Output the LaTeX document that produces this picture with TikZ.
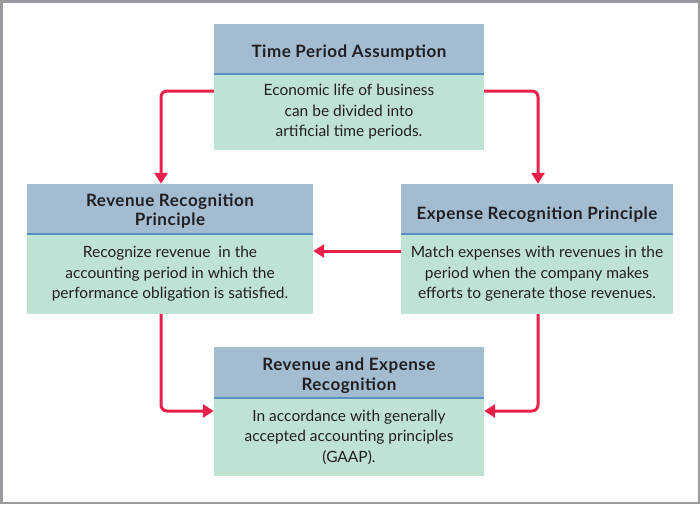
\documentclass[tikz,border=0pt]{standalone}
\usepackage{fontspec}
\setmainfont{Lato}
\newfontfamily\hdrfont[LetterSpace=3]{Lato}
\usetikzlibrary{arrows.meta}
\definecolor{hdr}{HTML}{A2BCD2}
\definecolor{bdy}{HTML}{BFE3D3}
\definecolor{sep}{HTML}{5B8EC2}
\definecolor{arr}{HTML}{E8204A}
\definecolor{frm}{HTML}{9A9A9E}
\definecolor{txt}{HTML}{231F20}
\tikzset{
  hbox/.style={fill=hdr, draw=none, inner sep=0pt},
  htext/.style={inner sep=0pt, anchor=base, align=center, font=\hdrfont\bfseries\fontsize{17}{19.5}\selectfont, text=txt},
  bbox/.style={fill=bdy, draw=none, inner sep=0pt, align=center, font=\fontsize{15.5}{20.5}\selectfont, text=txt},
  sepline/.style={draw=sep, line width=1.5pt},
  conn/.style={draw=arr, line width=3pt, rounded corners=6pt, -{Triangle[length=11pt,width=13pt]}},
}
\begin{document}
\begin{tikzpicture}[x=1pt,y=-1pt]
\useasboundingbox (0,0) rectangle (700,504);
\draw[frm, line width=2.5pt] (1.25,1.25) rectangle (698.75,502.75);
% top box
\node[hbox, minimum width=270pt, minimum height=50pt] (th) at (349,49) {};
\node[htext] (tht) at (349,57.3) {Time Period Assumption};
\node[bbox, minimum width=270pt, minimum height=76pt] (tb) at (349,112) {Economic life of business\\can be divided into\\artificial time periods.};
\draw[sepline] (th.south west) -- (th.south east);
% left box
\node[hbox, minimum width=286pt, minimum height=50pt] (lh) at (170,209) {};
\node[htext] (lht) at (170,225.5) {Revenue Recognition\\Principle};
\node[bbox, minimum width=286pt, minimum height=80pt] (lb) at (170,274) {Recognize revenue\ \ in the\\accounting period in which the\\performance obligation is satisfied.};
\draw[sepline] (lh.south west) -- (lh.south east);
% right box
\node[hbox, minimum width=272pt, minimum height=50pt] (rh) at (537,209) {};
\node[htext] (rht) at (537,219.3) {Expense Recognition Principle};
\node[bbox, minimum width=272pt, minimum height=80pt] (rb) at (537,274) {Match expenses with revenues in the\\period when the company makes\\efforts to generate those revenues.};
\draw[sepline] (rh.south west) -- (rh.south east);
% bottom box
\node[hbox, minimum width=270pt, minimum height=51pt] (bh) at (349,372.5) {};
\node[htext] (bht) at (349,390) {Revenue and Expense\\Recognition};
\node[bbox, minimum width=270pt, minimum height=78pt] (bb) at (349,437) {In accordance with generally\\accepted accounting principles\\(GAAP).};
\draw[sepline] (bh.south west) -- (bh.south east);
% connectors
\coordinate (c1) at (161,91);
\coordinate (c2) at (538,91);
\draw[conn] (tb.west |- c1) -| (lh.north -| c1);
\draw[conn] (tb.east |- c2) -| (rh.north -| c2);
\draw[conn] (rb.west |- 0,251) -- (lb.east |- 0,251);
\coordinate (c3) at (161,411);
\coordinate (c4) at (538,411);
\draw[conn] (lb.south -| c3) |- (bb.west |- c3);
\draw[conn] (rb.south -| c4) |- (bb.east |- c4);
\end{tikzpicture}
\end{document}
